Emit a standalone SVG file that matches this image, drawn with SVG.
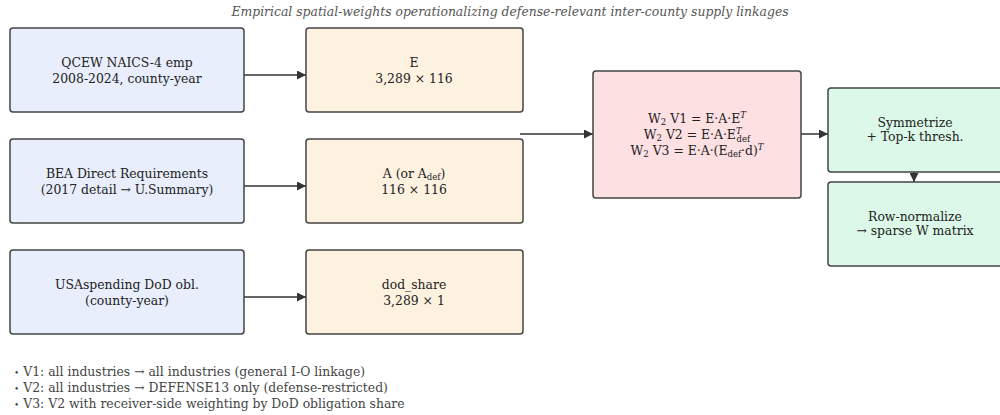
<svg xmlns="http://www.w3.org/2000/svg" width="1000" height="415" viewBox="0 0 1000 415">
<style>
text{font-family:"DejaVu Serif","Liberation Serif",serif;font-size:12.4px;fill:#222;text-anchor:middle}
.title{font-style:italic;font-size:12.4px;fill:#555}
.note{text-anchor:start;fill:#444}
.box{stroke:#444;stroke-width:1.5}
.src{fill:#e8eefc}
.mat{fill:#fdf1e0}
.w{fill:#fde0e2}
.out{fill:#dcf8e8}
.conn{stroke:#333;stroke-width:1.5;fill:none;marker-end:url(#ah)}
.sub{font-size:8.5px}
.bul{font-size:9px}
</style>
<defs>
<marker id="ah" viewBox="0 0 10 10" refX="10" refY="5" markerWidth="9" markerHeight="9" markerUnits="userSpaceOnUse" orient="auto">
<path d="M0,0 L10,5 L0,10 z" fill="#333"/>
</marker>
</defs>
<text class="title" x="510" y="16">Empirical spatial-weights operationalizing defense-relevant inter-county supply linkages</text>
<g id="connectors">
<line class="conn" x1="243" y1="75" x2="306" y2="75"/>
<line class="conn" x1="243" y1="186" x2="306" y2="186"/>
<line class="conn" x1="243" y1="297" x2="306" y2="297"/>
<line class="conn" x1="520" y1="134" x2="593" y2="134"/>
<line class="conn" x1="800" y1="134" x2="828" y2="134"/>
<line class="conn" x1="914" y1="172" x2="914" y2="182"/>
</g>
<g id="qcew"><rect class="box src" x="10" y="28" width="234" height="84" rx="3"/>
<text x="127" y="67">QCEW NAICS-4 emp</text><text x="127" y="83">2008-2024, county-year</text></g>
<g id="bea"><rect class="box src" x="10" y="139" width="234" height="84" rx="3"/>
<text x="127" y="178">BEA Direct Requirements</text><text x="127" y="194">(2017 detail → U.Summary)</text></g>
<g id="usaspending"><rect class="box src" x="10" y="250" width="234" height="84" rx="3"/>
<text x="127" y="289">USAspending DoD obl.</text><text x="127" y="305">(county-year)</text></g>
<g id="E"><rect class="box mat" x="306" y="28" width="217" height="84" rx="3"/>
<text x="414" y="67">E</text><text x="414" y="83">3,289 × 116</text></g>
<g id="A"><rect class="box mat" x="306" y="139" width="217" height="84" rx="3"/>
<text x="414" y="178">A (or A<tspan class="sub" dy="2">def</tspan><tspan dy="-2">)</tspan></text><text x="414" y="194">116 × 116</text></g>
<g id="dod_share"><rect class="box mat" x="306" y="250" width="217" height="84" rx="3"/>
<text x="414" y="289">dod_share</text><text x="414" y="305">3,289 × 1</text></g>
<g id="W2"><rect class="box w" x="593" y="71" width="208" height="127" rx="3"/>
<text x="697" y="123">W<tspan class="sub" dy="2">2</tspan><tspan dy="-2"> V1 = E·A·E</tspan><tspan class="sub" dy="-5" font-style="italic">T</tspan></text>
<text x="697" y="139">W<tspan class="sub" dy="2">2</tspan><tspan dy="-2"> V2 = E·A·E</tspan><tspan class="sub" dy="-5" font-style="italic">T</tspan><tspan class="sub" dx="-5" dy="8">def</tspan></text>
<text x="697" y="155">W<tspan class="sub" dy="2">2</tspan><tspan dy="-2"> V3 = E·A·(E</tspan><tspan class="sub" dy="2">def</tspan><tspan dy="-2">·d)</tspan><tspan class="sub" dy="-5" font-style="italic">T</tspan></text></g>
<g id="symmetrize"><rect class="box out" x="828" y="88" width="180" height="84" rx="3"/>
<text x="915" y="127">Symmetrize</text><text x="915" y="141">+ Top-k thresh.</text></g>
<g id="rownorm"><rect class="box out" x="828" y="182" width="180" height="84" rx="3"/>
<text x="915" y="221">Row-normalize</text><text x="915" y="235">→ sparse W matrix</text></g>
<g id="notes">
<text class="note" x="14" y="376"><tspan class="bul">•</tspan> V1: all industries → all industries (general I-O linkage)</text>
<text class="note" x="14" y="392"><tspan class="bul">•</tspan> V2: all industries → DEFENSE13 only (defense-restricted)</text>
<text class="note" x="14" y="408"><tspan class="bul">•</tspan> V3: V2 with receiver-side weighting by DoD obligation share</text>
</g>
</svg>
